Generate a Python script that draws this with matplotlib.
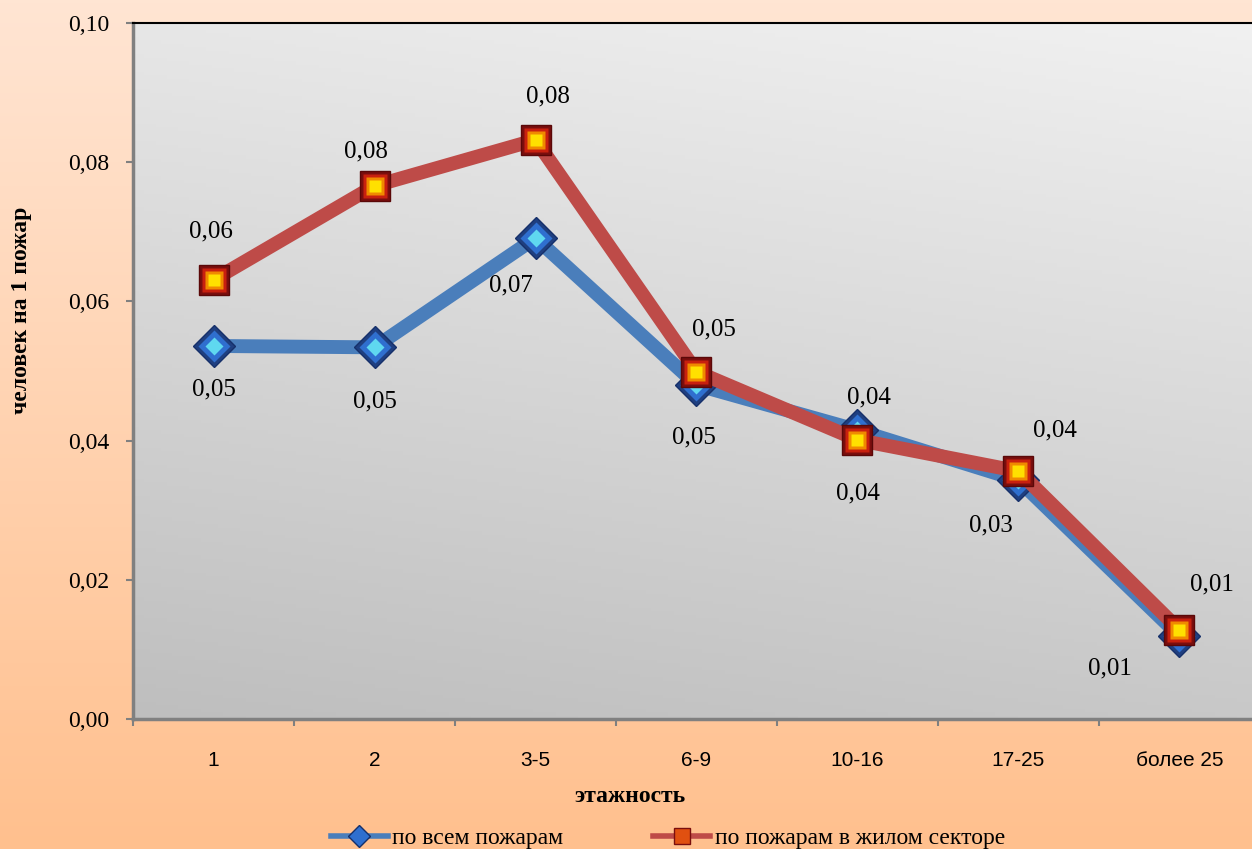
import matplotlib.pyplot as plt
import numpy as np
from matplotlib.lines import Line2D
from matplotlib.legend_handler import HandlerTuple

floors = ["1", "2", "3-5", "6-9", "10-16", "17-25", "более 25"]
all_fires = [0.0536, 0.0534, 0.0691, 0.0480, 0.0415, 0.0343, 0.0119]
home_fires = [0.0631, 0.0766, 0.0832, 0.0499, 0.0401, 0.0356, 0.0128]
all_labels = ["0,05", "0,05", "0,07", "0,05", "0,04", "0,03", "0,01"]
home_labels = ["0,06", "0,08", "0,08", "0,05", "0,04", "0,04", "0,01"]
yticks = [0.0, 0.02, 0.04, 0.06, 0.08, 0.10]

# label offsets in pixels
all_off = [(0, -44), (0, -54), (-25, -47), (-3, -53), (0, -63), (-28, -45), (-70, -32)]
home_off = [(-3, 48), (-9, 34), (12, 43), (17, 42), (11, 42), (36, 41), (32, 45)]

SERIF = "Liberation Serif"
SANS = "Liberation Sans"

fig = plt.figure(figsize=(12.52, 8.49), dpi=100)

# background gradient
bg = fig.add_axes([0, 0, 1, 1], zorder=-10)
top = np.array([255, 229, 211]) / 255
bot = np.array([255, 192, 142]) / 255
t = np.linspace(0, 1, 256)[:, None]
grad = top[None, :] * (1 - t) + bot[None, :] * t
bg.imshow(grad[:, None, :], aspect="auto", extent=[0, 1, 0, 1])
bg.axis("off")

ax = fig.add_axes([133 / 1252, 1 - 719 / 849, 1127 / 1252, 696 / 849])
x = np.arange(len(floors))
ax.set_xlim(-0.5, len(floors) - 0.5)
ax.set_ylim(0, 0.10)

# plot area gradient
gy, gx = np.mgrid[0:1:200j, 0:1:200j]
val = 0.745 + 0.2 * (1 - gy) * 0.8 + 0.04 * gx
pa = np.dstack([val, val, val])
ax.imshow(pa, aspect="auto", extent=[-0.5, len(floors) - 0.5, 0, 0.10], origin="upper", zorder=0)

ax.plot(x, all_fires, color="#4a7ebb", lw=10, zorder=2, solid_joinstyle="round")
ax.plot(x, home_fires, color="#be4b48", lw=10, zorder=4, solid_joinstyle="round")

# diamond markers
ax.plot(x, all_fires, "D", ms=21, color="#1f3f80", mec="#16306a", zorder=3)
ax.plot(x, all_fires, "D", ms=16, color="#2f6fcf", mec="none", zorder=3)
ax.plot(x, all_fires, "D", ms=9, color="#5fd8f0", mec="none", zorder=3)
# square markers
ax.plot(x, home_fires, "s", ms=22, color="#7a0e0e", mec="#5a0808", zorder=5)
ax.plot(x, home_fires, "s", ms=17, color="#c8200f", mec="none", zorder=5)
ax.plot(x, home_fires, "s", ms=13, color="#f08a00", mec="none", zorder=5)
ax.plot(x, home_fires, "s", ms=8, color="#ffe000", mec="none", zorder=5)

for xi, yi, lab, off in zip(x, all_fires, all_labels, all_off):
    ax.annotate(lab, (xi, yi), xytext=off, textcoords="offset pixels",
                ha="center", va="center", fontsize=18, family=SERIF, zorder=6)
for xi, yi, lab, off in zip(x, home_fires, home_labels, home_off):
    ax.annotate(lab, (xi, yi), xytext=off, textcoords="offset pixels",
                ha="center", va="center", fontsize=18, family=SERIF, zorder=6)

ax.set_yticks(yticks)
ax.set_yticklabels([f"{v:.2f}".replace(".", ",") for v in yticks], family=SERIF, fontsize=17)
ax.set_xticks(x)
ax.set_xticklabels(floors, family=SANS, fontsize=15)
ax.set_xticks(np.arange(len(floors) + 1) - 0.5, minor=True)
ax.tick_params(axis="x", which="major", length=0, pad=23)
ax.tick_params(axis="x", which="minor", length=5, width=1.5, color="#808080")
ax.tick_params(axis="y", length=5, width=1.5, color="#808080", pad=12)

for s in ["left", "bottom"]:
    ax.spines[s].set_color("#808080")
    ax.spines[s].set_linewidth(2.5)
ax.spines["top"].set_color("black")
ax.spines["top"].set_linewidth(1.5)
ax.spines["right"].set_visible(False)

fig.text(630 / 1252, 1 - 796 / 849, "этажность", ha="center", va="center",
         family=SERIF, fontsize=17, fontweight="bold")
fig.text(22 / 1252, 1 - 310 / 849, "человек на 1 пожар", ha="center", va="center",
         rotation=90, family=SERIF, fontsize=17, fontweight="bold")

h1 = (Line2D([], [], color="#4a7ebb", lw=4),
      Line2D([], [], ls="none", marker="D", ms=11, color="#2f6fcf", mec="#16306a"))
h2 = (Line2D([], [], color="#be4b48", lw=4),
      Line2D([], [], ls="none", marker="s", ms=11, color="#e05010", mec="#7a0e0e"))
fig.legend([h1, h2], ["по всем пожарам", "по пожарам в жилом секторе"],
           handler_map={tuple: HandlerTuple(ndivide=1, pad=0)},
           loc="center", bbox_to_anchor=(668 / 1252, 1 - 838 / 849), ncol=2,
           frameon=False, prop={"family": SERIF, "size": 17},
           handlelength=2.4, handletextpad=0.2, columnspacing=3.8)

fig.savefig("out.png", dpi=100)
